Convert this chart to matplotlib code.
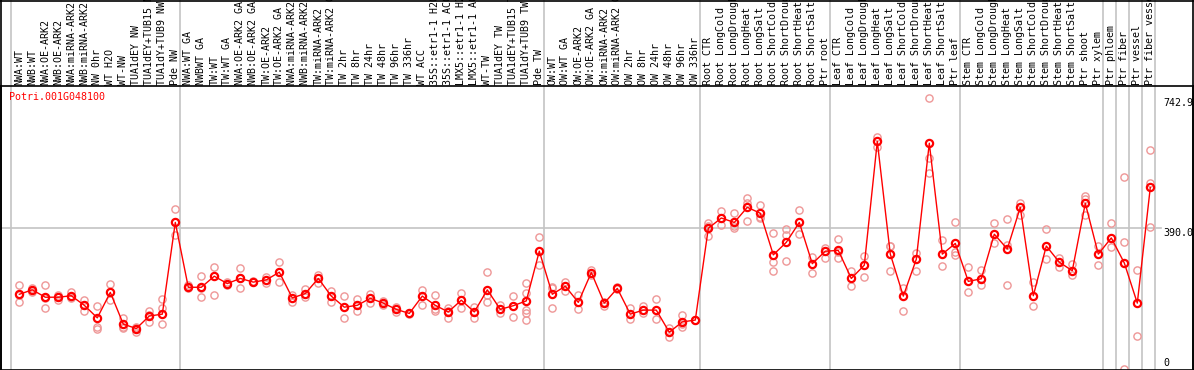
import matplotlib
matplotlib.use("Agg")
import matplotlib.pyplot as plt
from matplotlib.transforms import blended_transform_factory

title = "Potri.001G048100"

labels = [
    "NWA:WT", "NWB:WT", "NWA:OE-ARK2", "NWB:OE-ARK2", "NWA:miRNA-ARK2", "NWB:miRNA-ARK2",
    "NW 0hr", "WT H2O", "WT-NW", "TUA1dEY NW", "TUA1dEY+TUB15 NW", "TUA1dY+TUB9 NW", "Pde NW",
    "NWA:WT GA", "NWBWT GA", "TW:WT", "TW:WT GA", "NWA:OE-ARK2 GA", "NWB:OE-ARK2 GA",
    "TW:OE-ARK2", "TW:OE-ARK2 GA", "NWA:miRNA-ARK2 GA", "NWB:miRNA-ARK2 GA", "TW:miRNA-ARK2",
    "TW:miRNA-ARK2 GA", "TW 2hr", "TW 8hr", "TW 24hr", "TW 48hr", "TW 96hr", "TW 336hr",
    "WT ACC", "35S::etr1-1 H2O", "35S::etr1-1 ACC", "LMX5::etr1-1 H2O", "LMX5::etr1-1 ACC",
    "WT-TW", "TUA1dEY TW", "TUA1dEY+TUB15 TW", "TUA1dY+TUB9 TW", "Pde TW",
    "OW:WT", "OW:WT GA", "OW:OE-ARK2", "OW:OE-ARK2 GA", "OW:miRNA-ARK2", "OW:miRNA-ARK2 GA",
    "OW 2hr", "OW 8hr", "OW 24hr", "OW 48hr", "OW 96hr", "OW 336hr",
    "Root CTR", "Root LongCold", "Root LongDrought", "Root LongHeat", "Root LongSalt",
    "Root ShortCold", "Root ShortDrought", "Root ShortHeat", "Root ShortSalt", "Ptr root",
    "Leaf CTR", "Leaf LongCold", "Leaf LongDrought", "Leaf LongHeat", "Leaf LongSalt",
    "Leaf ShortCold", "Leaf ShortDrought", "Leaf ShortHeat", "Leaf ShortSalt", "Ptr leaf",
    "Stem CTR", "Stem LongCold", "Stem LongDrought", "Stem LongHeat", "Stem LongSalt",
    "Stem ShortCold", "Stem ShortDrought", "Stem ShortHeat", "Stem ShortSalt",
    "Ptr shoot", "Ptr xylem", "Ptr phloem", "Ptr fiber", "Ptr vessel", "Ptr fiber vessel",
]

# group sizes (separated by vertical grid lines)
group_sizes = [13, 28, 12, 10, 10, 11, 1, 1, 1, 1]

means = [
    211, 223, 203, 203, 207, 181, 147, 216, 130, 118, 152, 157, 406,
    230, 230, 260, 240, 254, 244, 250, 271, 201, 213, 254, 206, 176, 181, 200, 187,
    170, 159, 206, 181, 163, 195, 163, 223, 170, 180, 193, 328,
    211, 233, 189, 270, 187, 227, 157, 168, 168, 108, 136, 141,
    390, 418, 406, 447, 431, 318, 352, 406, 294, 328,
    330, 254, 290, 626, 320, 206, 306, 621, 320, 349,
    246, 253, 374, 334, 447, 207, 342, 298, 275, 458, 320,
    364, 296, 187, 501,
]

reps = [
    [235, 189, 210], [227, 218, 223], [235, 173, 200], [209, 195, 204], [218, 203, 200],
    [195, 165, 183], [179, 123, 117], [238, 195, 216], [147, 119, 122], [123, 109, 120],
    [166, 135, 155], [197, 173, 130], [442, 371, 406],
    [236, 227], [260, 203, 229], [284, 208], [245, 236], [281, 227, 254], [246, 243],
    [259, 241], [299, 244], [209, 191], [225, 204], [263, 242], [221, 191], [206, 147],
    [197, 166], [213, 188], [194, 182], [177, 162], [161, 158], [223, 183], [208, 166, 170],
    [173, 147, 166], [214, 173], [177, 147], [271, 191, 209], [181, 159], [206, 149],
    [242, 215, 168, 161, 141], [366, 290],
    [232, 174, 228], [245, 220], [209, 170], [277, 263], [191, 179], [231, 224],
    [173, 143], [179, 159], [198, 143], [119, 96], [154, 121, 129], [141, 141],
    [405, 369, 395], [437, 399, 418], [431, 392, 396], [471, 410, 460], [452, 419, 422],
    [376, 299, 275], [388, 372, 302], [440, 374], [313, 268], [337, 310],
    [361, 309, 326], [274, 233], [315, 257], [639, 612], [343, 274, 341], [227, 166],
    [324, 274], [743, 580, 539], [358, 288], [406, 327, 318],
    [286, 218], [277, 236], [404, 349], [415, 236, 345], [460, 426], [245, 179],
    [388, 306], [309, 286], [292, 263], [478, 426, 470], [343, 290],
    [404, 340], [528, 352, 9], [277, 98], [603, 512, 394],
]

ytick_values = [742.9, 390.0, 0]
ytick_labels = ["742.9", "390.0", "0"]

W, H = 1194, 370
fig = plt.figure(figsize=(W / 100, H / 100), dpi=100)
ax_left, ax_right, ax_top, ax_bot = 1.0, 1193.0, 86.0, 369.5
ax = fig.add_axes([ax_left / W, (H - ax_bot) / H, (ax_right - ax_left) / W, (ax_bot - ax_top) / H])

x0, dx = 19.3, 13.0
ax.set_xlim((ax_left - x0) / dx, (ax_right - x0) / dx)
ypx0, k = 372.0, 0.3684
ax.set_ylim((ypx0 - ax_bot) / k, (ypx0 - ax_top) / k)
ax.set_xticks([])
ax.set_yticks([])
for s in ax.spines.values():
    s.set_color("black")
    s.set_linewidth(1.2)

mono = "DejaVu Sans Mono"
fs = 7.2
grid_c = "#c4c4c4"

# vertical separators (extending through label area)
trans = blended_transform_factory(ax.transData, ax.transAxes)
ytop_axes = 1 + ax_top / (ax_bot - ax_top)
bounds = [-1]
acc = -1
for g in group_sizes:
    acc += g
    bounds.append(acc)
off = 4.7 / dx
for b in bounds:
    ax.plot([b + off, b + off], [0, ytop_axes], color=grid_c, lw=1.2, transform=trans,
            clip_on=False, zorder=1)

# horizontal grid at 390
x_end = (1161 - x0) / dx
ax.plot([ax.get_xlim()[0], x_end], [390, 390], color=grid_c, lw=1.2, zorder=1)

xs = list(range(len(means)))
rep_c = "#ee9797"
for i, rv in enumerate(reps):
    ax.plot([i] * len(rv), rv, linestyle="none", marker="o", ms=5.2, mfc="none",
            mec=rep_c, mew=1.0, zorder=2, clip_on=False)
ax.plot(xs, means, color="#ff0000", lw=1.0, zorder=3)
ax.plot(xs, means, linestyle="none", marker="o", ms=5.2, mfc="none", mec="#ff0000",
        mew=1.6, zorder=4)

# column labels
ylab = 1 + 1.0 / (ax_bot - ax_top)
for i, lab in enumerate(labels):
    ax.text(i, ylab, lab, rotation=90, ha="center", va="bottom", family=mono,
            fontsize=fs, color="black", transform=trans, clip_on=False)

# figure borders (top, left, right)
fig.add_artist(plt.Line2D([0, 1], [1 - 0.5 / H, 1 - 0.5 / H], color="black", lw=1.2,
                          transform=fig.transFigure))
fig.add_artist(plt.Line2D([ax_left / W, ax_left / W], [0, 1], color="black", lw=1.2,
                          transform=fig.transFigure))
fig.add_artist(plt.Line2D([ax_right / W, ax_right / W], [0, 1], color="black", lw=1.2,
                          transform=fig.transFigure))

# title
fig.text(9.3 / W, 1 - 97.5 / H, title, color="#ff0000", family=mono, fontsize=fs,
         ha="left", va="center")

# right value labels
xr = (1163 - x0) / dx
for v, t in zip(ytick_values, ytick_labels):
    if v > 0:
        ax.text(xr, v, t, family=mono, fontsize=fs, ha="left", va="top", clip_on=False)
    else:
        ax.text(xr, (ypx0 - 366.5) / k, t, family=mono, fontsize=fs, ha="left",
                va="baseline", clip_on=False)

fig.savefig("out.png", dpi=100)
